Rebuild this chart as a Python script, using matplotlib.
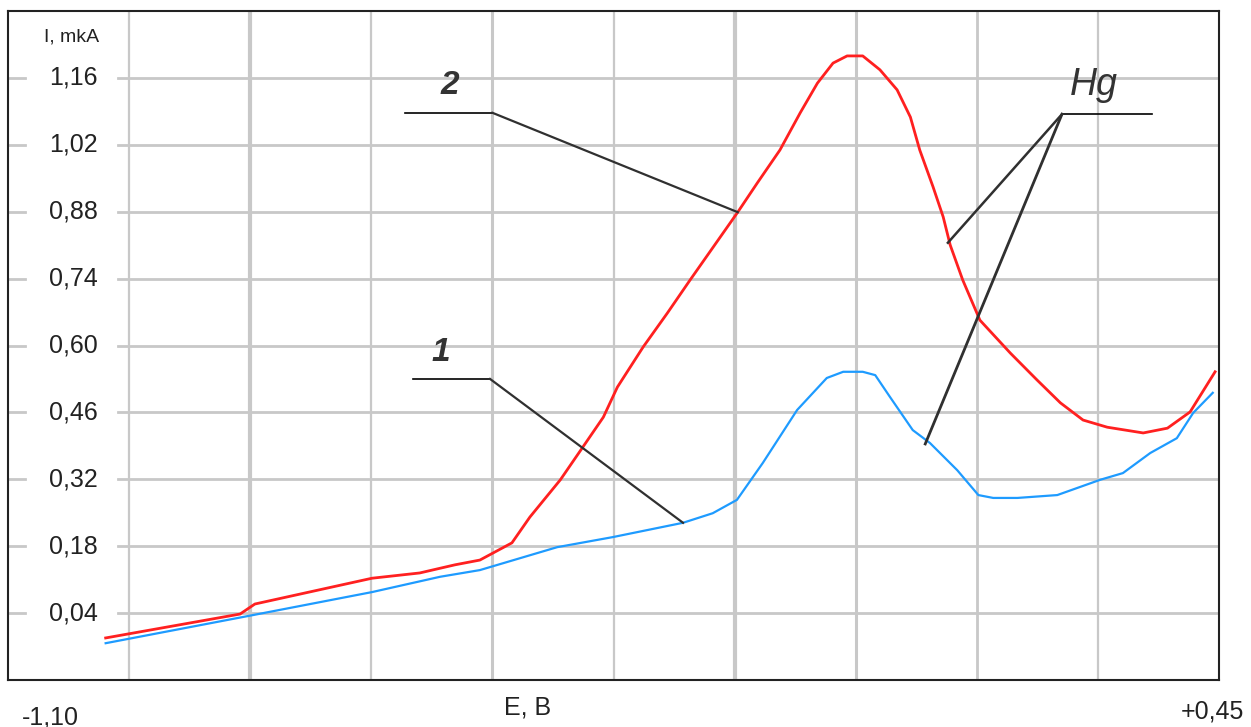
import matplotlib
matplotlib.use("Agg")
import matplotlib.pyplot as plt

# ---- data (E in V, I in mkA) ----
E_curve1 = [-0.975, -0.786, -0.634, -0.547, -0.496, -0.397, -0.326, -0.236, -0.198,
            -0.167, -0.134, -0.090, -0.052, -0.031, -0.006, 0.010, 0.029, 0.058,
            0.080, 0.115, 0.142, 0.161, 0.192, 0.243, 0.298, 0.327, 0.362, 0.396,
            0.417, 0.442]
I_curve1 = [-0.023, 0.036, 0.084, 0.116, 0.130, 0.178, 0.199, 0.229, 0.249,
            0.277, 0.354, 0.465, 0.532, 0.545, 0.545, 0.538, 0.492, 0.423,
            0.396, 0.339, 0.287, 0.281, 0.281, 0.287, 0.319, 0.333, 0.375, 0.406,
            0.459, 0.501]

E_curve2 = [-0.975, -0.803, -0.784, -0.634, -0.573, -0.528, -0.496, -0.455, -0.432,
            -0.393, -0.364, -0.338, -0.320, -0.287, -0.256, -0.227, -0.166, -0.141,
            -0.112, -0.086, -0.064, -0.044, -0.026, -0.006, 0.016, 0.038, 0.055,
            0.067, 0.084, 0.097, 0.106, 0.122, 0.144, 0.183, 0.217, 0.247, 0.276,
            0.307, 0.353, 0.384, 0.413, 0.445]
I_curve2 = [-0.012, 0.038, 0.059, 0.113, 0.124, 0.141, 0.151, 0.187, 0.241,
            0.319, 0.388, 0.450, 0.513, 0.597, 0.668, 0.737, 0.879, 0.940,
            1.009, 1.087, 1.149, 1.191, 1.206, 1.206, 1.177, 1.135, 1.078,
            1.009, 0.932, 0.869, 0.810, 0.737, 0.653, 0.584, 0.528, 0.480, 0.444,
            0.429, 0.417, 0.427, 0.461, 0.545]

y_ticks = [0.04, 0.18, 0.32, 0.46, 0.60, 0.74, 0.88, 1.02, 1.16]
y_tick_labels = ["0,04", "0,18", "0,32", "0,46", "0,60", "0,74", "0,88", "1,02", "1,16"]
x_grid = [-0.945, -0.790, -0.635, -0.480, -0.325, -0.170, -0.015, 0.140, 0.295]
x_min, x_max = -1.10, 0.45
y_min, y_max = -0.10, 1.30
x_min_label, x_max_label, x_axis_label, y_axis_label = "-1,10", "+0,45", "E, B", "I, mkA"

plt.rcParams['font.family'] = ['Liberation Sans', 'DejaVu Sans']

W, H = 1251, 727
fig = plt.figure(figsize=(W / 100, H / 100), dpi=100)
L, R, B, T = 8, 1219, 680, 11
ax = fig.add_axes([L / W, (H - B) / H, (R - L) / W, (B - T) / H])
ax.set_xlim(x_min, x_max)
ax.set_ylim(y_min, y_max)
ax.set_xticks([])
ax.set_yticks([])
for s in ax.spines.values():
    s.set_linewidth(1.5)
    s.set_color("#222222")

grid_c = "#c8c8c8"
thick = {-0.790: 3.0, -0.170: 3.0, -0.480: 2.2, -0.015: 2.2, 0.140: 2.0}
for xv in x_grid:
    ax.axvline(xv, color=grid_c, lw=thick.get(xv, 1.6), zorder=1)

gap_lo = (25 - L) / (R - L)
gap_hi = (118 - L) / (R - L)
for yv, lab in zip(y_ticks, y_tick_labels):
    ax.axhline(yv, xmin=0, xmax=gap_lo, color=grid_c, lw=2.0, zorder=1)
    ax.axhline(yv, xmin=gap_hi, xmax=1, color=grid_c, lw=2.0, zorder=1)
    ax.text((73 - L) / (R - L), yv, lab, transform=ax.get_yaxis_transform(),
            ha="center", va="center", fontsize=18, color="#222222")

ax.text((72 - L) / (R - L), 1 - (37 - T) / (B - T), y_axis_label, transform=ax.transAxes,
        ha="center", va="center", fontsize=14, color="#222222")

ax.plot(E_curve1, I_curve1, color="#1e9bff", lw=1.6, zorder=3)
ax.plot(E_curve2, I_curve2, color="#ff2020", lw=2.0, zorder=3)

# leader lines
lc = "#303030"
# label 2
ax.plot([-0.592, -0.480], [1.087, 1.087], color="black", lw=1.2, zorder=4)
ax.plot([-0.480, -0.166], [1.087, 0.879], color=lc, lw=1.6, zorder=4)
ax.text(-0.534, 1.145, "2", fontsize=24, fontweight="bold", fontstyle="italic",
        ha="center", va="center", color="#333333")
# label 1
ax.plot([-0.582, -0.483], [0.530, 0.530], color="black", lw=1.2, zorder=4)
ax.plot([-0.483, -0.236], [0.530, 0.229], color=lc, lw=1.6, zorder=4)
ax.text(-0.546, 0.586, "1", fontsize=24, fontweight="bold", fontstyle="italic",
        ha="center", va="center", color="#333333")
# Hg
ax.plot([0.249, 0.364], [1.084, 1.084], color="black", lw=1.2, zorder=4)
ax.plot([0.249, 0.103], [1.084, 0.815], color=lc, lw=1.8, zorder=4)
ax.plot([0.249, 0.074], [1.084, 0.394], color=lc, lw=2.0, zorder=4)
ax.text(0.290, 1.145, "Hg", fontsize=27, fontstyle="italic",
        ha="center", va="center", color="#333333")

# x labels below axes
fig.text(50 / W, 1 - 717 / H, x_min_label, ha="center", va="center", fontsize=18, color="#222222")
fig.text(528 / W, 1 - 707 / H, x_axis_label, ha="center", va="center", fontsize=18, color="#222222")
fig.text(1212 / W, 1 - 711 / H, x_max_label, ha="center", va="center", fontsize=18, color="#222222")

fig.savefig("out.png", dpi=100)
